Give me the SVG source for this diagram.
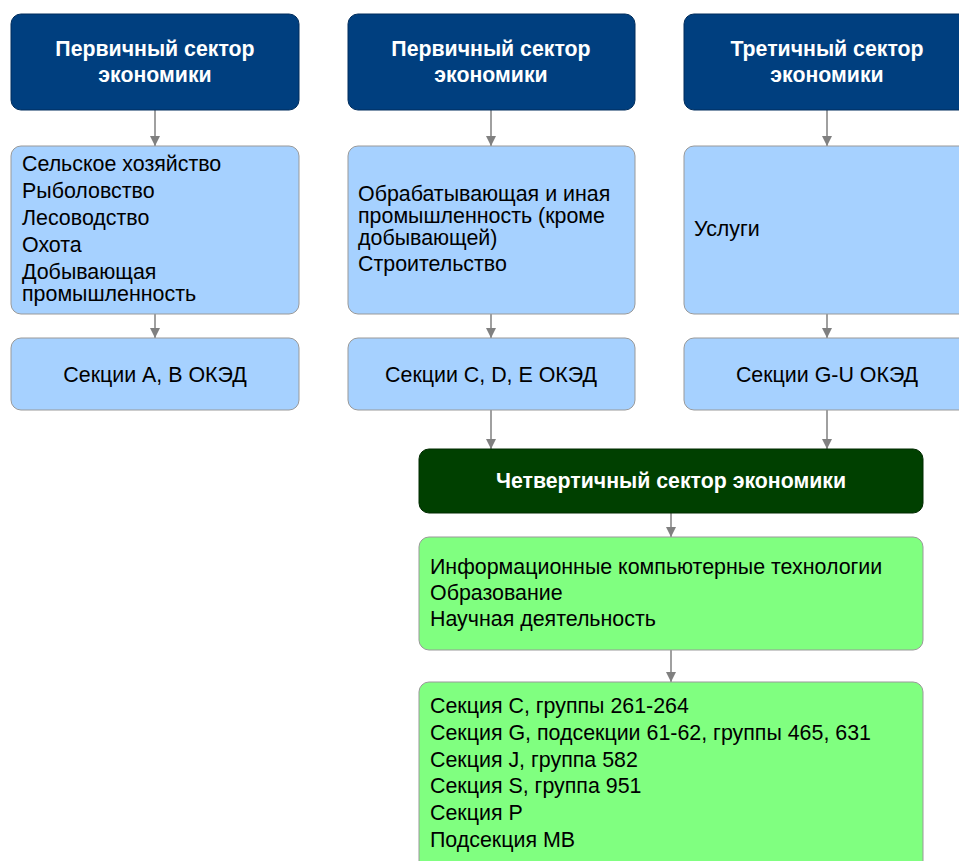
<svg xmlns="http://www.w3.org/2000/svg" width="959" height="861" viewBox="0 0 959 861">
<defs>
<marker id="ah" markerWidth="10" markerHeight="10" refX="10" refY="5" orient="auto" markerUnits="userSpaceOnUse" viewBox="0 0 10 10">
<path d="M0,0 L10,5 L0,10 Z" fill="#808080"/>
</marker>
<style>
.hdr{fill:#003f7f;stroke:#002d5c;stroke-width:1}
.hdrg{fill:#004000;stroke:#002a00;stroke-width:1}
.lb{fill:#a6d1ff;stroke:#999;stroke-width:1}
.lg{fill:#80ff80;stroke:#999;stroke-width:1}
.ht{font-family:"Liberation Sans",Arial,sans-serif;font-size:21.3px;font-weight:bold;fill:#fff;text-anchor:middle}
.bt{font-family:"Liberation Sans",Arial,sans-serif;font-size:21.4px;fill:#000}
.ct{text-anchor:middle}
.cn{stroke:#808080;stroke-width:1.5;fill:none;marker-end:url(#ah)}
</style>
</defs>
<rect width="959" height="861" fill="#fff"/>
<g id="connectors">
<line class="cn" x1="155" y1="110" x2="155" y2="146"/>
<line class="cn" x1="155" y1="314" x2="155" y2="338"/>
<line class="cn" x1="491" y1="110" x2="491" y2="146"/>
<line class="cn" x1="491" y1="314" x2="491" y2="338"/>
<line class="cn" x1="827" y1="110" x2="827" y2="146"/>
<line class="cn" x1="827" y1="314" x2="827" y2="338"/>
<line class="cn" x1="491" y1="410" x2="491" y2="449"/>
<line class="cn" x1="827" y1="410" x2="827" y2="449"/>
<line class="cn" x1="671" y1="513" x2="671" y2="537"/>
<line class="cn" x1="671" y1="650" x2="671" y2="682"/>
</g>
<g id="h1"><rect class="hdr" x="11" y="14" width="288" height="96" rx="10"/><text class="ht" x="155" y="56">Первичный сектор</text><text class="ht" x="155" y="82">экономики</text></g>
<g id="h2"><rect class="hdr" x="348" y="14" width="287" height="96" rx="10"/><text class="ht" x="491" y="56">Первичный сектор</text><text class="ht" x="491" y="82">экономики</text></g>
<g id="h3"><rect class="hdr" x="684" y="14" width="288" height="96" rx="10"/><text class="ht" x="827" y="56">Третичный сектор</text><text class="ht" x="827" y="82">экономики</text></g>
<g id="b1"><rect class="lb" x="11" y="146" width="288" height="168" rx="10"/>
<text class="bt" x="22" y="171">Сельское хозяйство</text>
<text class="bt" x="22" y="198">Рыболовство</text>
<text class="bt" x="22" y="225">Лесоводство</text>
<text class="bt" x="22" y="252">Охота</text>
<text class="bt" x="22" y="279">Добывающая</text>
<text class="bt" x="22" y="301">промышленность</text></g>
<g id="b2"><rect class="lb" x="348" y="146" width="287" height="168" rx="10"/>
<text class="bt" x="358" y="201">Обрабатывающая и иная</text>
<text class="bt" x="358" y="223">промышленность (кроме</text>
<text class="bt" x="358" y="245">добывающей)</text>
<text class="bt" x="358" y="271">Строительство</text></g>
<g id="b3"><rect class="lb" x="684" y="146" width="288" height="168" rx="10"/>
<text class="bt" x="694" y="236">Услуги</text></g>
<g id="s1"><rect class="lb" x="11" y="338" width="288" height="72" rx="10"/><text class="bt ct" x="155" y="382">Секции А, В ОКЭД</text></g>
<g id="s2"><rect class="lb" x="348" y="338" width="287" height="72" rx="10"/><text class="bt ct" x="491" y="382">Секции C, D, E ОКЭД</text></g>
<g id="s3"><rect class="lb" x="684" y="338" width="288" height="72" rx="10"/><text class="bt ct" x="827" y="382">Секции G-U ОКЭД</text></g>
<g id="q1"><rect class="hdrg" x="419" y="449" width="504" height="64" rx="10"/><text class="ht" x="671" y="488">Четвертичный сектор экономики</text></g>
<g id="q2"><rect class="lg" x="419" y="537" width="504" height="113" rx="10"/>
<text class="bt" x="430" y="574">Информационные компьютерные технологии</text>
<text class="bt" x="430" y="600">Образование</text>
<text class="bt" x="430" y="626">Научная деятельность</text></g>
<g id="q3"><rect class="lg" x="419" y="682" width="504" height="200" rx="10"/>
<text class="bt" x="430" y="713">Секция C, группы 261-264</text>
<text class="bt" x="430" y="740">Секция G, подсекции 61-62, группы 465, 631</text>
<text class="bt" x="430" y="767">Секция J, группа 582</text>
<text class="bt" x="430" y="793">Секция S, группа 951</text>
<text class="bt" x="430" y="820">Секция P</text>
<text class="bt" x="430" y="847">Подсекция MB</text></g>
</svg>
